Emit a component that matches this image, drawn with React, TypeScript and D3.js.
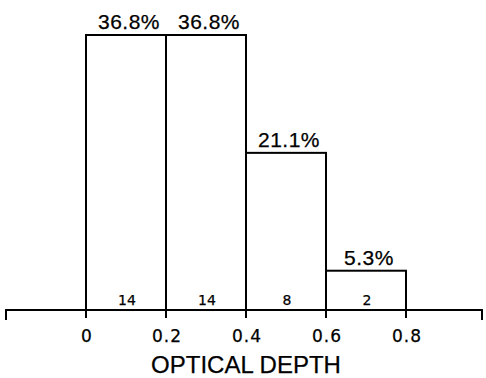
import React from 'react'
import * as d3 from 'd3'

const W = 486
const H = 378
const M = { left: 6, right: 4, axisY: 310, top: 35 }

// histogram bins (optical depth) with counts and percentages
const binStarts = [0, 0.2, 0.4, 0.6]
const binWidth = 0.2
const counts = [14, 14, 8, 2]
const percents = ['36.8%', '36.8%', '21.1%', '5.3%']
const tickValues = [0, 0.2, 0.4, 0.6, 0.8]
const tickLabels = ['0', '0.2', '0.4', '0.6', '0.8']
const axisDomain = [-0.2, 0.99]

const FONT = '"Liberation Sans", Arial, sans-serif'
const WIDE = '"DejaVu Sans", sans-serif'
const txt = { stroke: '#000', strokeWidth: 0.25 }

export default function App() {
  const x = d3.scaleLinear().domain(axisDomain).range([M.left, W - M.right])
  const y = d3.scaleLinear().domain([0, 14]).range([M.axisY, M.top])

  return (
    <svg width={W} height={H} style={{ display: 'block', position: 'absolute', left: 0, top: 0 }}>
      <rect width={W} height={H} fill="#fff" />
      {/* bars */}
      {binStarts.map((s, i) => (
        <g key={s}>
          <rect
            x={x(s)}
            y={y(counts[i])}
            width={x(s + binWidth) - x(s)}
            height={y(0) - y(counts[i])}
            fill="none"
            stroke="#000"
            strokeWidth={2}
          />
          <text
            x={x(s + binWidth / 2) + 3}
            y={y(counts[i]) - 6}
            textAnchor="middle"
            fontFamily={FONT}
            fontSize={21}
            letterSpacing={0.5}
            {...txt}
          >
            {percents[i]}
          </text>
          <text
            x={x(s + binWidth / 2) + 1}
            y={M.axisY - 5}
            textAnchor="middle"
            fontFamily={WIDE}
            fontSize={14}
            {...txt}
          >
            {counts[i]}
          </text>
        </g>
      ))}
      {/* axis */}
      <path
        d={`M${x(axisDomain[0])},${M.axisY + 10}V${M.axisY}H${x(axisDomain[1])}V${M.axisY + 10}`}
        fill="none"
        stroke="#000"
        strokeWidth={2}
      />
      {tickValues.map((t, i) => (
        <g key={t}>
          <line x1={x(t)} x2={x(t)} y1={M.axisY} y2={M.axisY + 8} stroke="#000" strokeWidth={2} />
          <text
            x={x(t) + 1}
            y={342}
            textAnchor="middle"
            fontFamily={WIDE}
            fontSize={17}
            letterSpacing={1}
            {...txt}
          >
            {tickLabels[i]}
          </text>
        </g>
      ))}
      <text x={x(0.4)} y={373} textAnchor="middle" fontFamily={FONT} fontSize={24} {...txt}>
        OPTICAL DEPTH
      </text>
    </svg>
  )
}
